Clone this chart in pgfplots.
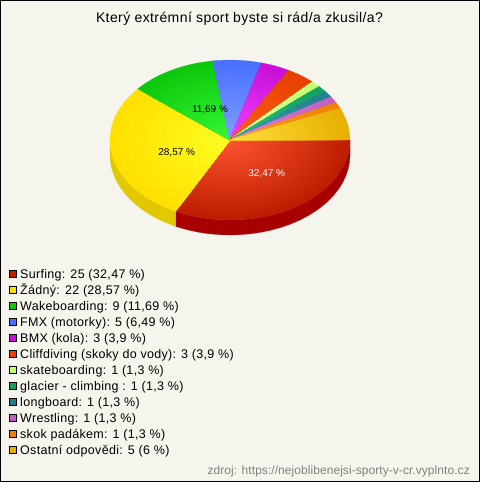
\documentclass[border=0pt]{standalone}
\usepackage{pgfplots}
\usepackage{pgfplotstable}
\pgfplotsset{compat=1.18}
\usepackage{fontspec}
\setmainfont{Liberation Sans}
\newfontfamily\titlefont[LetterSpace=2.9]{Liberation Sans}
\newfontfamily\legfont[LetterSpace=2.5]{Liberation Sans}
\newfontfamily\srcfont[LetterSpace=0.5]{Liberation Sans}
\definecolor{bg}{HTML}{F5F5ED}
\definecolor{sideA}{HTML}{A80000}
\definecolor{sideB}{HTML}{E2C800}
\definecolor{iA}{HTML}{FF5533}\definecolor{oA}{HTML}{BE1E00}
\definecolor{iB}{HTML}{FFFF22}\definecolor{oB}{HTML}{FFE000}
\definecolor{iC}{HTML}{38F838}\definecolor{oC}{HTML}{0CC80C}
\definecolor{iD}{HTML}{80A0FF}\definecolor{oD}{HTML}{4A70FF}
\definecolor{iE}{HTML}{F040FF}\definecolor{oE}{HTML}{C810D8}
\definecolor{iF}{HTML}{FF6020}\definecolor{oF}{HTML}{E84000}
\definecolor{iG}{HTML}{E0FFA0}\definecolor{oG}{HTML}{C0FF70}
\definecolor{iH}{HTML}{30C080}\definecolor{oH}{HTML}{10A060}
\definecolor{iI}{HTML}{40A0B0}\definecolor{oI}{HTML}{208090}
\definecolor{iJ}{HTML}{E080E0}\definecolor{oJ}{HTML}{C060C0}
\definecolor{iK}{HTML}{FFA030}\definecolor{oK}{HTML}{F08000}
\definecolor{iL}{HTML}{FFE040}\definecolor{oL}{HTML}{E8B000}
\pgfplotstableread{
x y
0 0
120 0
119.54 -6.97
118.18 -13.89
115.91 -20.71
112.76 -27.36
108.76 -33.81
103.92 -40
98.30 -45.89
91.93 -51.42
84.85 -56.57
77.13 -61.28
68.83 -65.53
60 -69.28
50.71 -72.50
41.04 -75.18
31.06 -77.27
20.84 -78.78
10.46 -79.70
0 -80
-10.46 -79.70
-20.84 -78.78
-31.06 -77.27
-41.04 -75.18
-50.71 -72.50
-54.26 -71.35
}\tA
\pgfplotstableread{
x y
0 0
-54.26 -71.35
-60 -69.28
-68.83 -65.53
-77.13 -61.28
-84.85 -56.57
-91.93 -51.42
-98.30 -45.89
-103.92 -40
-108.76 -33.81
-112.76 -27.36
-115.91 -20.71
-118.18 -13.89
-119.54 -6.97
-120 0
-119.54 6.97
-118.18 13.89
-115.91 20.71
-112.76 27.36
-108.76 33.81
-103.92 40
-98.30 45.89
-92.28 51.14
}\tB
\pgfplotstableread{
x y
0 0
-92.28 51.14
-84.85 56.57
-77.13 61.28
-68.83 65.53
-60 69.28
-50.71 72.50
-41.04 75.18
-31.06 77.27
-17.08 79.18
}\tC
\pgfplotstableread{
x y
0 0
-17.08 79.18
-10.46 79.70
0 80
10.46 79.70
20.84 78.78
31.45 77.20
}\tD
\pgfplotstableread{
x y
0 0
31.45 77.20
41.04 75.18
50.71 72.50
58.58 69.82
}\tE
\pgfplotstableread{
x y
0 0
58.58 69.82
68.83 65.53
77.13 61.28
82.22 58.27
}\tF
\pgfplotstableread{
x y
0 0
82.22 58.27
89.05 53.62
}\tG
\pgfplotstableread{
x y
0 0
89.05 53.62
95.33 48.59
}\tH
\pgfplotstableread{
x y
0 0
95.33 48.59
100.96 43.25
}\tI
\pgfplotstableread{
x y
0 0
100.96 43.25
105.91 37.62
}\tJ
\pgfplotstableread{
x y
0 0
105.91 37.62
110.15 31.74
}\tK
\pgfplotstableread{
x y
0 0
110.15 31.74
112.76 27.36
115.91 20.71
118.18 13.89
119.54 6.97
120 0
}\tL
\pgfplotstableread{
x y
120 0
119.54 -6.97
118.18 -13.89
115.91 -20.71
112.76 -27.36
108.76 -33.81
103.92 -40
98.30 -45.89
91.93 -51.42
84.85 -56.57
77.13 -61.28
68.83 -65.53
60 -69.28
50.71 -72.50
41.04 -75.18
31.06 -77.27
20.84 -78.78
10.46 -79.70
0 -80
-10.46 -79.70
-20.84 -78.78
-31.06 -77.27
-41.04 -75.18
-50.71 -72.50
-54.26 -71.35
-54.26 -86.35
-50.71 -87.50
-41.04 -90.18
-31.06 -92.27
-20.84 -93.78
-10.46 -94.70
0 -95
10.46 -94.70
20.84 -93.78
31.06 -92.27
41.04 -90.18
50.71 -87.50
60 -84.28
68.83 -80.53
77.13 -76.28
84.85 -71.57
91.93 -66.42
98.30 -60.89
103.92 -55
108.76 -48.81
112.76 -42.36
115.91 -35.71
118.18 -28.89
119.54 -21.97
120 -15
}\sA
\pgfplotstableread{
x y
-54.26 -71.35
-60 -69.28
-68.83 -65.53
-77.13 -61.28
-84.85 -56.57
-91.93 -51.42
-98.30 -45.89
-103.92 -40
-108.76 -33.81
-112.76 -27.36
-115.91 -20.71
-118.18 -13.89
-119.54 -6.97
-120 0
-120 -15
-119.54 -21.97
-118.18 -28.89
-115.91 -35.71
-112.76 -42.36
-108.76 -48.81
-103.92 -55
-98.30 -60.89
-91.93 -66.42
-84.85 -71.57
-77.13 -76.28
-68.83 -80.53
-60 -84.28
-54.26 -86.35
}\sB
\newcommand{\slice}[3]{%
  \pgfplotsinvokeforeach{0,...,19}{%
    \addplot[fill=#2!\the\numexpr##1*5\relax!#3,draw=#2!\the\numexpr##1*5\relax!#3,line width=0.2pt,forget plot]
      table[x expr={230+(1-##1/20)*\thisrow{x}},y expr={342+(1-##1/20)*\thisrow{y}}]{#1} -- cycle;
  }%
}
\newcommand{\legrow}[3]{%
  \addplot[only marks,mark=square*,mark size=3.5bp,mark options={fill=#2,draw=black,line width=0.9bp},forget plot]
    coordinates {(13,#1)};
  \node[anchor=base west,inner sep=0pt] at (axis cs:20,#1-4.5) {\legfont\fontsize{12.5bp}{14bp}\selectfont #3};
}
\begin{document}
\begin{tikzpicture}
\begin{axis}[
  scale only axis,width=480bp,height=482bp,
  xmin=0,xmax=480,ymin=0,ymax=482,
  hide axis,clip=false]
\addplot[fill=bg,draw=none,forget plot] coordinates {(0,0)(480,0)(480,482)(0,482)} -- cycle;
\addplot[draw=black,line width=1bp,fill=none,forget plot] coordinates {(0.5,0.5)(479.5,0.5)(479.5,481.5)(0.5,481.5)} -- cycle;
\addplot[fill=sideA,draw=sideA,line width=0.2pt,forget plot] table[x expr={230+\thisrow{x}},y expr={342+\thisrow{y}}]{\sA} -- cycle;
\addplot[fill=sideB,draw=sideB,line width=0.2pt,forget plot] table[x expr={230+\thisrow{x}},y expr={342+\thisrow{y}}]{\sB} -- cycle;
\slice{\tA}{iA}{oA}
\slice{\tB}{iB}{oB}
\slice{\tC}{iC}{oC}
\slice{\tD}{iD}{oD}
\slice{\tE}{iE}{oE}
\slice{\tF}{iF}{oF}
\slice{\tG}{iG}{oG}
\slice{\tH}{iH}{oH}
\slice{\tI}{iI}{oI}
\slice{\tJ}{iJ}{oJ}
\slice{\tK}{iK}{oK}
\slice{\tL}{iL}{oL}
\node[text=white,inner sep=0pt] at (axis cs:266.7,308.7) {\fontsize{10bp}{12bp}\selectfont 32,47 \%};
\node[text=black,inner sep=0pt] at (axis cs:176.7,329.7) {\fontsize{10bp}{12bp}\selectfont 28,57 \%};
\node[text=black,inner sep=0pt] at (axis cs:210,372) {\fontsize{10bp}{12bp}\selectfont 11,69 \%};
\node[inner sep=0pt] at (axis cs:239.5,463) {\titlefont\fontsize{14bp}{16bp}\selectfont Který extrémní sport byste si rád/a zkusil/a?};
\legrow{208}{oA}{Surfing: 25 (32,47 \%)}
\legrow{192}{oB}{Žádný: 22 (28,57 \%)}
\legrow{176}{oC}{Wakeboarding: 9 (11,69 \%)}
\legrow{160}{oD}{FMX (motorky): 5 (6,49 \%)}
\legrow{144}{oE}{BMX (kola): 3 (3,9 \%)}
\legrow{128}{oF}{Cliffdiving (skoky do vody): 3 (3,9 \%)}
\legrow{112}{oG}{skateboarding: 1 (1,3 \%)}
\legrow{96}{oH}{glacier - climbing : 1 (1,3 \%)}
\legrow{80}{oI}{longboard: 1 (1,3 \%)}
\legrow{64}{oJ}{Wrestling: 1 (1,3 \%)}
\legrow{48}{oK}{skok padákem: 1 (1,3 \%)}
\legrow{32}{oL}{Ostatní odpovědi: 5 (6 \%)}
\node[anchor=base east,inner sep=0pt,text=black!50] at (axis cs:470,7.5) {\srcfont\fontsize{12bp}{14bp}\selectfont zdroj: https://nejoblibenejsi-sporty-v-cr.vyplnto.cz};
\end{axis}
\end{tikzpicture}
\end{document}
